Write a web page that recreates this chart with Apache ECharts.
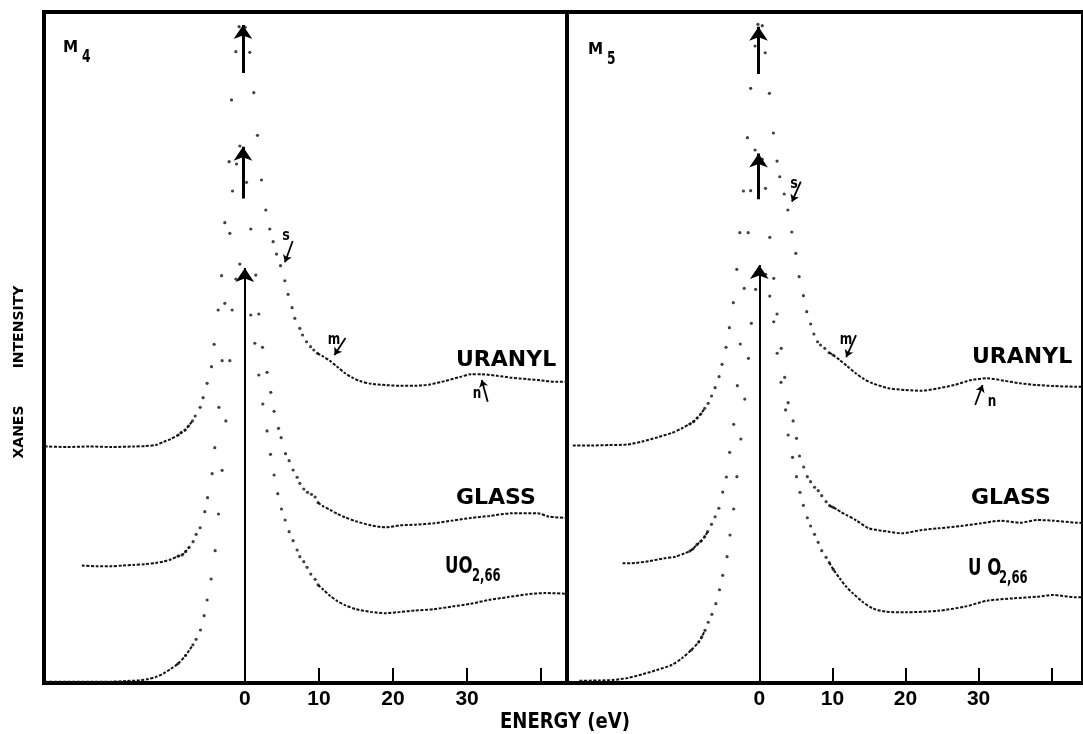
<!DOCTYPE html>
<html>
<head>
<meta charset="utf-8">
<title>XANES M4 / M5</title>
<script src="https://cdn.jsdelivr.net/npm/echarts@6/dist/echarts.min.js"></script>
<style>
  html, body { margin: 0; padding: 0; background: #fff; }
  #chart { width: 1083px; height: 734px; }
</style>
</head>
<body>
<div id="chart"></div>
<script>
// [energy (eV), intensity (arb. units, curves offset)]
const m4Uranyl = [
  [-27, 35.25], [-24, 35.17], [-21, 35.25], [-18, 35.17], [-15, 35.25], [-13.5, 35.3], [-12, 35.47], [-11, 35.92], [-10, 36.36], [-9, 36.96],
  [-8.6, 37.3], [-8.06, 37.7], [-7.6, 38.3], [-7.06, 39.05], [-6.7, 39.79], [-6.03, 41.09], [-5.63, 42.52], [-5.09, 44.66], [-4.5, 47.14],
  [-4.14, 50.48], [-3.6, 55.59], [-3.14, 60.7], [-2.7, 68.6], [-2.12, 77.69], [-1.79, 86.89], [-1.21, 94.08], [-0.77, 97.81], [0.04, 97.72],
  [0.67, 93.99], [1.21, 87.97], [1.71, 81.62], [2.25, 74.96], [2.83, 70.49], [3.37, 67.66], [3.82, 65.77], [4.28, 63.93], [4.82, 62.19],
  [5.4, 59.95], [5.84, 57.93], [6.38, 55.93], [6.75, 54.35], [7.42, 52.86], [7.79, 51.86], [8.33, 50.86], [8.87, 50.12], [9.31, 49.63], [9.81, 49.13],
  [10.5, 48.7], [11.5, 48.0], [12.5, 47.1], [13.5, 46.2], [14.5, 45.5], [15.5, 45.0], [17, 44.6], [19, 44.4], [21, 44.3], [23, 44.3],
  [25, 44.5], [27, 45.0], [29, 45.6], [30.5, 46.0], [32, 46.0], [34, 45.8], [36, 45.5], [38, 45.3], [40, 45.1], [42, 44.9], [43.6, 44.9]
];
const m4Glass = [
  [-22, 17.5], [-20, 17.4], [-18, 17.4], [-16.5, 17.5], [-15, 17.6], [-13.5, 17.7], [-12, 17.9], [-11, 18.1], [-10, 18.4], [-9, 18.9],
  [-8.46, 19.08], [-8.0, 19.57], [-7.52, 20.22], [-6.98, 21.06], [-6.57, 22.16], [-6.03, 23.14], [-5.4, 25.53], [-5.03, 27.62], [-4.41, 31.19],
  [-4.05, 35.07], [-3.5, 41.09], [-3.06, 48.03], [-2.7, 56.59], [-2.02, 67.02], [-1.66, 73.32], [-1.12, 77.35], [-0.67, 80.03], [0.23, 74.62],
  [0.81, 67.66], [1.48, 60.8], [1.89, 54.99], [2.39, 50.03], [3.0, 46.3], [3.5, 43.32], [3.95, 40.49], [4.55, 37.96], [4.9, 36.56],
  [5.49, 34.17], [5.98, 33.13], [6.52, 31.74], [7.06, 30.66], [7.42, 29.76], [7.96, 28.91], [8.46, 28.42], [9.0, 28.12], [9.49, 27.72], [9.89, 26.87],
  [10.5, 26.4], [11.5, 25.8], [12.5, 25.2], [13.5, 24.7], [15, 24.1], [17, 23.5], [19, 23.2], [21, 23.5], [23, 23.6], [25.5, 23.8],
  [28, 24.2], [30.5, 24.6], [33, 24.9], [36, 25.3], [39.5, 25.3], [41, 24.8], [43.6, 24.6]
];
const m4Uo266 = [
  [-27, 0.2], [-24, 0.2], [-21, 0.2], [-18, 0.2], [-16, 0.3], [-14, 0.4], [-13, 0.6], [-12, 0.9], [-11, 1.4], [-10, 2.1], [-9, 2.9], [-8, 4.1], [-7, 5.7],
  [-6.57, 6.51], [-5.98, 7.9], [-5.49, 10.03], [-5.09, 12.37], [-4.55, 15.5], [-4.0, 19.72], [-3.55, 25.19], [-3.06, 31.7], [-2.56, 39.05],
  [-2.02, 48.03], [-1.71, 55.59], [-1.21, 60.21], [-0.67, 62.44], [0.81, 54.84], [1.35, 50.63], [1.89, 45.9], [2.43, 41.58], [3.0, 37.56],
  [3.47, 34.08], [3.95, 31.0], [4.45, 28.21], [4.95, 25.93], [5.44, 24.29], [5.98, 22.55], [6.52, 21.21], [7.06, 19.82], [7.42, 18.82],
  [7.96, 18.08], [8.4, 17.24], [8.9, 16.24], [9.49, 15.45], [9.89, 14.61],
  [10.5, 14.0], [11.5, 13.0], [12.5, 12.2], [13.5, 11.6], [15, 11.0], [17, 10.6], [19, 10.4], [21, 10.6], [23, 10.8], [25.5, 11.0],
  [28, 11.4], [30.5, 11.8], [33, 12.4], [35.5, 12.8], [38, 13.2], [40.5, 13.4], [43.6, 13.3]
];
const m5Uranyl = [
  [-25.5, 35.39], [-23, 35.39], [-20.5, 35.47], [-18, 35.54], [-16, 35.99], [-14, 36.59], [-12, 37.26], [-10.5, 38.0],
  [-9.5, 38.6], [-9.0, 38.94], [-8.5, 39.49], [-8.0, 40.09], [-7.47, 40.94], [-6.99, 41.68], [-6.53, 42.77], [-6.04, 44.01], [-5.5, 45.65],
  [-5.09, 47.5], [-4.55, 50.03], [-4.09, 52.95], [-3.55, 56.68], [-3.07, 61.65], [-2.66, 67.11], [-2.16, 73.32], [-1.62, 81.27], [-1.18, 88.63],
  [-0.58, 94.93], [-0.18, 98.17], [0.41, 97.96], [0.81, 93.93], [1.39, 87.88], [1.93, 81.97], [2.43, 77.79], [2.8, 75.45], [3.41, 72.88],
  [3.91, 70.49], [4.45, 67.21], [5.0, 64.04], [5.45, 60.55], [6.04, 57.72], [6.49, 55.34], [7.03, 53.5], [7.47, 52.01], [7.97, 50.86],
  [8.38, 50.37], [8.96, 49.88], [9.55, 49.22], [10.1, 48.88],
  [11, 48.14], [12, 47.24], [13.2, 46.15], [14.3, 45.31], [15.5, 44.66], [17.7, 43.92], [20, 43.67], [22.2, 43.56], [24.5, 43.92],
  [26.7, 44.41], [29, 45.16], [31.2, 45.41], [33.5, 45.05], [35.7, 44.66], [38, 44.41], [40.2, 44.26], [43.3, 44.16], [44.3, 44.16]
];
const m5Glass = [
  [-18.7, 17.84], [-17, 17.88], [-15, 18.18], [-13, 18.58], [-11.5, 18.82], [-10.2, 19.33],
  [-9.49, 19.67], [-9.08, 19.97], [-8.54, 20.61], [-8.0, 21.12], [-7.47, 21.8], [-7.06, 22.55], [-6.53, 23.65], [-6.04, 24.78], [-5.53, 26.04],
  [-5.0, 28.46], [-4.5, 30.7], [-4.05, 34.38], [-3.5, 38.55], [-3.0, 44.31], [-2.6, 50.52], [-2.06, 58.82], [-1.52, 67.11], [-1.18, 73.37],
  [-0.58, 79.43], [0.41, 78.05], [0.85, 73.72], [1.44, 66.42], [1.98, 60.31], [2.43, 54.99], [3.01, 49.88], [3.47, 45.56], [3.95, 41.77],
  [4.63, 39.05], [5.09, 36.47], [5.5, 33.83], [6.08, 32.19], [6.57, 30.75], [7.02, 30.0], [7.56, 29.17], [8.06, 28.66], [8.54, 27.91],
  [9.14, 27.02], [9.62, 26.42], [10.12, 26.18],
  [10.6, 25.86], [11.2, 25.48], [11.9, 25.04], [13.2, 24.29], [15, 23.05], [17.7, 22.55], [19.5, 22.31], [22.2, 22.8], [24.5, 23.05],
  [27.6, 23.4], [30.3, 23.8], [33, 24.19], [35.7, 23.89], [38, 24.29], [40.2, 24.19], [43.3, 23.89], [44.3, 23.85]
];
const m5Uo266 = [
  [-24.6, 0.34], [-22, 0.37], [-20, 0.45], [-18, 0.75], [-16, 1.3], [-14, 1.94], [-12, 2.68], [-10.6, 3.68], [-9.3, 4.92], [-8.3, 6.11],
  [-7.87, 6.86], [-7.42, 7.85], [-6.98, 9.05], [-6.48, 10.24], [-5.94, 11.82], [-5.44, 13.9], [-5.0, 16.05], [-4.41, 18.82], [-4.0, 22.06],
  [-3.5, 25.93], [-3.06, 30.75], [-2.52, 36.36], [-1.98, 42.32], [-1.48, 48.39], [-1.08, 53.61], [-0.5, 58.67], [0.85, 60.91], [1.44, 57.67],
  [1.98, 53.84], [2.45, 49.14], [2.97, 44.81], [3.6, 40.69], [3.95, 36.96], [4.55, 33.64], [5.09, 30.75], [5.57, 28.42], [6.03, 26.48],
  [6.57, 24.63], [7.02, 23.4], [7.56, 22.16], [8.06, 20.97], [8.54, 19.72], [9.14, 18.73], [9.58, 17.93], [10.12, 16.94],
  [11.0, 15.6], [11.9, 14.35], [12.8, 13.37], [14.1, 12.12], [15.5, 11.13], [17.3, 10.63], [20, 10.54], [24.5, 10.77], [28.1, 11.37],
  [31.2, 12.27], [34.8, 12.62], [38, 12.86], [40.2, 13.11], [43.3, 12.77], [44.3, 12.8]
];

// white-line arrows at 0 eV: [energy, from, to]
const m4Arrows = [[-0.25, 90.9, 98.06], [-0.25, 72.2, 79.9], [0, 0, 61.85]];
const m5Arrows = [[-0.1, 90.76, 97.8], [-0.1, 72.1, 78.9], [0, 0, 62.3]];
// feature pointers s, m, n: [e1, v1, e2, v2]
const m4Pointers = [[6.46, 65.87, 5.42, 62.7], [13.59, 51.42, 12.1, 48.88], [32.78, 41.92, 31.97, 45.16]];
const m5Pointers = [[5.68, 74.71, 4.47, 71.73], [13.24, 51.86, 11.89, 48.58], [29.53, 41.43, 30.55, 44.41]];

const tickLabels = [0, 10, 20, 30];
const tickMarks = [10, 20, 30, 40];

const SANS = '"Liberation Sans", Arial, sans-serif';
const WIDE = '"DejaVu Sans", "Liberation Sans", sans-serif';
const INK = '#111';

const chart = echarts.init(document.getElementById('chart'));

function curveSeries(pts, idx) {
  // dotted trace for the slow tails, loose dots for the steep edge
  const tail = [];
  let broken = false;
  pts.forEach(p => {
    if (p[0] <= -7 || p[0] >= 9.5) {
      tail.push(p);
    } else if (!broken) {
      tail.push([p[0], '-']);
      broken = true;
    }
  });
  const dots = pts.filter(p => p[0] >= -9.6 && p[0] <= 10.2);
  return [
    {
      type: 'line', xAxisIndex: idx, yAxisIndex: idx, data: tail,
      showSymbol: false, smooth: 0.25, connectNulls: false, silent: true,
      lineStyle: { color: INK, width: 2, type: [3, 1.6] }
    },
    {
      type: 'scatter', xAxisIndex: idx, yAxisIndex: idx, data: dots,
      symbolSize: 3.2, silent: true, itemStyle: { color: INK }
    }
  ];
}

function arrowSeries(arrows, idx) {
  return {
    type: 'lines', coordinateSystem: 'cartesian2d', xAxisIndex: idx, yAxisIndex: idx,
    symbol: ['none', 'arrow'], symbolSize: [8, 14], silent: true, z: 5,
    data: arrows.map(a => ({
      coords: [[a[0], a[1]], [a[0], a[2]]],
      lineStyle: { width: a[1] === 0 ? 2 : 3 }
    })),
    lineStyle: { color: '#000', width: 3, opacity: 1 }
  };
}

function pointerSeries(list, idx) {
  return {
    type: 'lines', coordinateSystem: 'cartesian2d', xAxisIndex: idx, yAxisIndex: idx,
    symbol: ['none', 'arrow'], symbolSize: [5, 7], silent: true, z: 5,
    data: list.map(a => ({ coords: [[a[0], a[1]], [a[2], a[3]]] })),
    lineStyle: { color: '#000', width: 1.8, opacity: 1 }
  };
}

function xAxisFor(idx, min, max) {
  return {
    type: 'value', gridIndex: idx, min: min, max: max,
    splitLine: { show: false },
    axisLine: { show: false },
    axisTick: {
      show: true, inside: true, length: 15, customValues: tickMarks,
      lineStyle: { color: '#000', width: 2 }
    },
    axisLabel: {
      show: true, customValues: tickLabels, margin: 6,
      color: '#000', fontFamily: SANS, fontWeight: 'bold', fontSize: 21
    }
  };
}

function yAxisFor(idx) {
  return { type: 'value', gridIndex: idx, min: 0, max: 100, show: false };
}

// text placed by its left (or centre) edge; sx squeezes it like the condensed typeface
function txt(text, x, y, font, align, sx) {
  return {
    type: 'text', x: x, y: y, scaleX: sx || 1, silent: true,
    style: { text: text, fill: '#000', font: font, align: align || 'left', verticalAlign: 'middle' }
  };
}

const gridStyle = { show: true, borderColor: '#000', borderWidth: 4, backgroundColor: 'transparent' };

chart.setOption({
  animation: false,
  backgroundColor: '#fff',
  grid: [
    Object.assign({ left: 44, top: 12, width: 523, height: 671 }, gridStyle),
    Object.assign({ left: 567, top: 12, width: 523, height: 671 }, gridStyle)
  ],
  xAxis: [xAxisFor(0, -27.1, 43.48), xAxisFor(1, -26.3, 44.28)],
  yAxis: [yAxisFor(0), yAxisFor(1)],
  series: [].concat(
    curveSeries(m4Uranyl, 0), curveSeries(m4Glass, 0), curveSeries(m4Uo266, 0),
    curveSeries(m5Uranyl, 1), curveSeries(m5Glass, 1), curveSeries(m5Uo266, 1),
    [arrowSeries(m4Arrows, 0), arrowSeries(m5Arrows, 1), pointerSeries(m4Pointers, 0), pointerSeries(m5Pointers, 1)]
  ),
  graphic: [
    // panel titles
    txt('M', 63, 48, 'bold 16px ' + WIDE, 'left', 0.95),
    txt('4', 82, 57, 'bold 18px ' + WIDE, 'left', 0.68),
    txt('M', 588, 50, 'bold 16px ' + WIDE, 'left', 0.95),
    txt('5', 607, 59, 'bold 18px ' + WIDE, 'left', 0.68),
    // curve labels, left panel
    txt('URANYL', 456, 360, 'bold 22px ' + WIDE),
    txt('GLASS', 456, 498, 'bold 22px ' + WIDE),
    txt('UO', 445, 567, 'bold 23px ' + WIDE, 'left', 0.72),
    txt('2,66', 472, 577, 'bold 17px ' + WIDE, 'left', 0.68),
    // curve labels, right panel
    txt('URANYL', 972, 357, 'bold 22px ' + WIDE),
    txt('GLASS', 971, 498, 'bold 22px ' + WIDE),
    txt('U O', 968, 569, 'bold 23px ' + WIDE, 'left', 0.72),
    txt('2,66', 999, 579, 'bold 17px ' + WIDE, 'left', 0.68),
    // feature letters
    txt('s', 286, 236, 'bold 16px ' + WIDE, 'center', 0.8),
    txt('m', 334, 340, 'bold 16px ' + WIDE, 'center', 0.75),
    txt('n', 477, 394, 'bold 16px ' + WIDE, 'center', 0.75),
    txt('s', 794, 184, 'bold 16px ' + WIDE, 'center', 0.8),
    txt('m', 846, 340, 'bold 16px ' + WIDE, 'center', 0.75),
    txt('n', 992, 402, 'bold 16px ' + WIDE, 'center', 0.75),
    // axis titles
    txt('ENERGY (eV)', 565, 722, 'bold 22px ' + WIDE, 'center', 0.82),
    {
      type: 'text', x: 19, y: 432, rotation: Math.PI / 2, silent: true,
      style: { text: 'XANES', fill: '#000', font: 'bold 14px ' + WIDE, align: 'center', verticalAlign: 'middle' }
    },
    {
      type: 'text', x: 19, y: 327, rotation: Math.PI / 2, silent: true,
      style: { text: 'INTENSITY', fill: '#000', font: 'bold 14px ' + WIDE, align: 'center', verticalAlign: 'middle' }
    }
  ]
});
</script>
</body>
</html>
